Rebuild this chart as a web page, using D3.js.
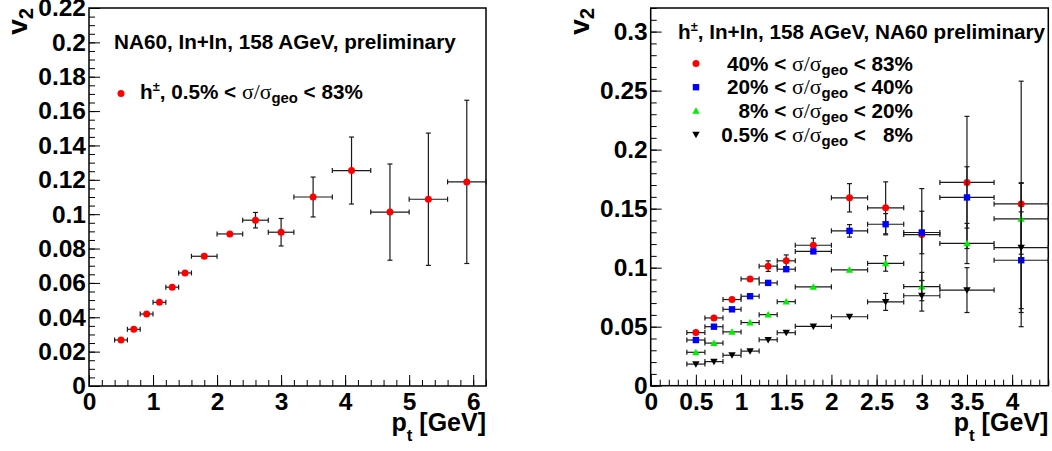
<!DOCTYPE html>
<html><head><meta charset="utf-8">
<script src="https://cdn.jsdelivr.net/npm/d3@7"></script>
<style>
body{margin:0;background:#fff;}
svg{display:block;font-family:"Liberation Sans",Arial,Helvetica,sans-serif;font-weight:bold;}
</style></head><body>
<svg id="c" width="1052" height="451"></svg>
<script>
// ---------------- data ----------------
// Left panel: h±, 0.5% < σ/σgeo < 83%
const leftPt      = [0.5, 0.7, 0.9, 1.1, 1.3, 1.5, 1.8, 2.2, 2.6, 3.0, 3.5, 4.1, 4.7, 5.3, 5.9];
const leftPtErr   = [0.1, 0.1, 0.1, 0.1, 0.1, 0.1, 0.2, 0.2, 0.2, 0.2, 0.3, 0.3, 0.3, 0.3, 0.3];
const leftV2      = [0.0268, 0.0330, 0.0419, 0.0487, 0.0575, 0.0658, 0.0755, 0.0885, 0.0965, 0.0895, 0.1100, 0.1254, 0.1012, 0.1087, 0.1188];
const leftV2Err   = [0.0010, 0.0010, 0.0010, 0.0012, 0.0013, 0.0015, 0.0018, 0.0020, 0.0045, 0.0080, 0.0116, 0.0195, 0.0280, 0.0385, 0.0475];
const leftXTicks  = [0, 1, 2, 3, 4, 5, 6];
const leftXLabels = ["0", "1", "2", "3", "4", "5", "6"];
const leftYTicks  = [0, 0.02, 0.04, 0.06, 0.08, 0.1, 0.12, 0.14, 0.16, 0.18, 0.2, 0.22];
const leftYLabels = ["0", "0.02", "0.04", "0.06", "0.08", "0.1", "0.12", "0.14", "0.16", "0.18", "0.2", "0.22"];

// Right panel: four centrality classes
const rightPt     = [0.5, 0.7, 0.9, 1.1, 1.3, 1.5, 1.8, 2.2, 2.6, 3.0, 3.5, 4.1];
const rightPtErr  = [0.1, 0.1, 0.1, 0.1, 0.1, 0.1, 0.2, 0.2, 0.2, 0.2, 0.3, 0.3];
const v2_40_83    = [0.0450, 0.0574, 0.0730, 0.0905, 0.1013, 0.1058, 0.1190, 0.1592, 0.1507, 0.1280, 0.1722, 0.1540];
const err_40_83   = [0.0015, 0.0015, 0.0015, 0.0015, 0.0045, 0.0050, 0.0060, 0.0120, 0.0220, 0.0390, 0.0560, 0.1040];
const v2_20_40    = [0.0387, 0.0500, 0.0647, 0.0758, 0.0871, 0.0987, 0.1138, 0.1312, 0.1368, 0.1298, 0.1595, 0.1063];
const err_20_40   = [0.0015, 0.0015, 0.0015, 0.0015, 0.0020, 0.0025, 0.0030, 0.0053, 0.0090, 0.0180, 0.0260, 0.0410];
const v2_8_20     = [0.0283, 0.0361, 0.0456, 0.0535, 0.0602, 0.0712, 0.0837, 0.0981, 0.1036, 0.0840, 0.1205, 0.1414];
const err_8_20    = [0.0015, 0.0015, 0.0015, 0.0015, 0.0020, 0.0020, 0.0025, 0.0030, 0.0066, 0.0120, 0.0170, 0.0300];
const v2_05_8     = [0.0183, 0.0204, 0.0258, 0.0293, 0.0389, 0.0449, 0.0503, 0.0584, 0.0710, 0.0762, 0.0810, 0.1170];
const err_05_8    = [0.0015, 0.0015, 0.0015, 0.0015, 0.0015, 0.0020, 0.0020, 0.0035, 0.0072, 0.0130, 0.0190, 0.0550];
const rightXTicks  = [0, 0.5, 1, 1.5, 2, 2.5, 3, 3.5, 4];
const rightXLabels = ["0", "0.5", "1", "1.5", "2", "2.5", "3", "3.5", "4"];
const rightYTicks  = [0, 0.05, 0.1, 0.15, 0.2, 0.25, 0.3];
const rightYLabels = ["0", "0.05", "0.1", "0.15", "0.2", "0.25", "0.3"];

// ---------------- drawing ----------------
const svg = d3.select("#c");

function rich(sel, parts, fs) {
  let off = 0;
  parts.forEach(([t, k]) => {
    let size = fs, shift = 0, fam = null, wt = null;
    if (k === "sub") { size = fs * 0.72; shift = fs * 0.2; }
    if (k === "sup") { size = fs * 0.62; shift = -fs * 0.38; }
    if (k === "sym") { fam = "'Liberation Serif','DejaVu Serif',serif"; wt = "normal"; size = fs * 1.05; }
    const ts = sel.append("tspan").text(t).attr("font-size", size).attr("dy", shift - off);
    if (fam) ts.attr("font-family", fam).attr("font-weight", wt);
    off = shift;
  });
}

function makePanel(cfg) {
  const x = d3.scaleLinear().domain(cfg.xDomain).range([cfg.left, cfg.right]);
  const y = d3.scaleLinear().domain(cfg.yDomain).range([cfg.bottom, cfg.top]);
  const g = svg.append("g");

  const minorX = d3.range(Math.round(cfg.xDomain[1] / cfg.xMinor) + 1).map(i => i * cfg.xMinor).filter(v => v <= cfg.xDomain[1] + 1e-9);
  const minorY = d3.range(Math.round(cfg.yDomain[1] / cfg.yMinor) + 1).map(i => i * cfg.yMinor).filter(v => v <= cfg.yDomain[1] + 1e-9);

  const axStyle = s => { s.select(".domain").remove(); s.selectAll("line").attr("stroke", "#000").attr("stroke-width", 1); };

  g.append("g").attr("transform", `translate(0,${cfg.bottom})`)
    .call(d3.axisBottom(x).tickValues(minorX).tickSize(-6).tickFormat(""))
    .call(axStyle);
  g.append("g").attr("transform", `translate(${cfg.left},0)`)
    .call(d3.axisLeft(y).tickValues(minorY).tickSize(-6).tickFormat(""))
    .call(axStyle);

  const xa = g.append("g").attr("transform", `translate(0,${cfg.bottom})`)
    .call(d3.axisBottom(x).tickValues(cfg.xTicks).tickSize(-11).tickPadding(7)
      .tickFormat((d, i) => cfg.xLabels[i]))
    .call(axStyle);
  const ya = g.append("g").attr("transform", `translate(${cfg.left},0)`)
    .call(d3.axisLeft(y).tickValues(cfg.yTicks).tickSize(-11).tickPadding(3)
      .tickFormat((d, i) => cfg.yLabels[i]))
    .call(axStyle);
  [xa, ya].forEach(a => a.selectAll("text").attr("font-size", 24.5).attr("font-weight", "bold")
    .attr("font-family", "'Liberation Sans',Arial,sans-serif").attr("fill", "#000"));

  g.append("rect").attr("x", cfg.left).attr("y", cfg.top)
    .attr("width", cfg.right - cfg.left).attr("height", cfg.bottom - cfg.top)
    .attr("fill", "none").attr("stroke", "#000").attr("stroke-width", 1.5);

  const yt = g.append("text").attr("transform", `translate(${cfg.left - 62},8) rotate(-90)`)
    .attr("text-anchor", "end").attr("font-size", 28);
  rich(yt, [["v", "n"], ["2", "sub"]], 28);
  const xt = g.append("text").attr("x", cfg.right).attr("y", 431)
    .attr("text-anchor", "end").attr("font-size", 25);
  xt.append("tspan").text("p");
  xt.append("tspan").text("t").attr("font-size", 17).attr("dy", 10);
  xt.append("tspan").text(" [GeV]").attr("dy", -10);

  return { g, x, y };
}

const markerR = 3.5;
function drawSeries(p, pts, ptErr, vals, errs, shape, color) {
  const { g, x, y } = p;
  const s = g.append("g");
  const data = pts.map((d, i) => ({ x: d, ex: ptErr[i], y: vals[i], ey: errs[i] }));
  const line = (x1, y1, x2, y2) => s.append("line").attr("x1", x1).attr("y1", y1).attr("x2", x2).attr("y2", y2)
    .attr("stroke", "#1a1a1a").attr("stroke-width", 1.2);
  data.forEach(d => {
    const cx = x(d.x), cy = y(d.y);
    const xl = x(d.x - d.ex), xr = x(d.x + d.ex);
    line(xl, cy, xr, cy);
    line(xl, cy - 2.5, xl, cy + 2.5);
    line(xr, cy - 2.5, xr, cy + 2.5);
    const yt = y(d.y + d.ey), yb = y(d.y - d.ey);
    if (cy - yt > markerR + 0.8) {
      line(cx, yt, cx, yb);
      line(cx - 2.5, yt, cx + 2.5, yt);
      line(cx - 2.5, yb, cx + 2.5, yb);
    }
  });
  data.forEach(d => drawMarker(s, x(d.x), y(d.y), shape, color));
}

function drawMarker(s, cx, cy, shape, color) {
  if (shape === "circle") {
    s.append("circle").attr("cx", cx).attr("cy", cy).attr("r", markerR).attr("fill", color);
  } else if (shape === "square") {
    s.append("rect").attr("x", cx - 3.2).attr("y", cy - 3.2).attr("width", 6.4).attr("height", 6.4).attr("fill", color);
  } else if (shape === "tri") {
    s.append("path").attr("d", `M${cx},${cy - 3.6}L${cx + 3.7},${cy + 2.9}L${cx - 3.7},${cy + 2.9}Z`).attr("fill", color);
  } else {
    s.append("path").attr("d", `M${cx},${cy + 3.6}L${cx + 3.7},${cy - 2.9}L${cx - 3.7},${cy - 2.9}Z`).attr("fill", color);
  }
}

// Left panel
const L = makePanel({
  left: 89, right: 486, top: 8, bottom: 386,
  xDomain: [0, 6.2], yDomain: [0, 0.22], xMinor: 0.2, yMinor: 0.005,
  xTicks: leftXTicks, xLabels: leftXLabels, yTicks: leftYTicks, yLabels: leftYLabels
});
drawSeries(L, leftPt, leftPtErr, leftV2, leftV2Err, "circle", "#ff0000");
rich(L.g.append("text").attr("x", 114).attr("y", 49).attr("font-size", 20.7),
  [["NA60, In+In, 158 AGeV, preliminary", "n"]], 20.7);
drawMarker(L.g, 121, 93.5, "circle", "#ff0000");
rich(L.g.append("text").attr("x", 140).attr("y", 99).attr("font-size", 20.7),
  [["h", "n"], ["\u00b1", "sup"], [", 0.5% < ", "n"], ["\u03c3/\u03c3", "sym"], ["geo", "sub"], [" < 83%", "n"]], 20.7);

// Right panel
const R = makePanel({
  left: 650.7, right: 1048.3, top: 8, bottom: 385.7,
  xDomain: [0, 4.4], yDomain: [0, 0.32], xMinor: 0.1, yMinor: 0.01,
  xTicks: rightXTicks, xLabels: rightXLabels, yTicks: rightYTicks, yLabels: rightYLabels
});
const rightSeries = [
  { v: v2_40_83, e: err_40_83, shape: "circle", color: "#ff0000", lab: "40%", hi: "83%" },
  { v: v2_20_40, e: err_20_40, shape: "square", color: "#0000ff", lab: "20%", hi: "40%" },
  { v: v2_8_20,  e: err_8_20,  shape: "tri",    color: "#00ee00", lab: "8%",  hi: "20%" },
  { v: v2_05_8,  e: err_05_8,  shape: "itri",   color: "#000000", lab: "0.5%", hi: "\u20078%" }
];
rightSeries.forEach(s => drawSeries(R, rightPt, rightPtErr, s.v, s.e, s.shape, s.color));
rich(R.g.append("text").attr("x", 678).attr("y", 39).attr("font-size", 20.7),
  [["h", "n"], ["\u00b1", "sup"], [", In+In, 158 AGeV, NA60 preliminary", "n"]], 20.7);
rightSeries.forEach((s, i) => {
  const by = 70.5 + i * 23.7;
  drawMarker(R.g, 696, by - 7, s.shape, s.color);
  rich(R.g.append("text").attr("x", 913).attr("y", by).attr("text-anchor", "end").attr("font-size", 20.7),
    [[s.lab + " < ", "n"], ["\u03c3/\u03c3", "sym"], ["geo", "sub"], [" < " + s.hi, "n"]], 20.7);
});
</script>
</body></html>
